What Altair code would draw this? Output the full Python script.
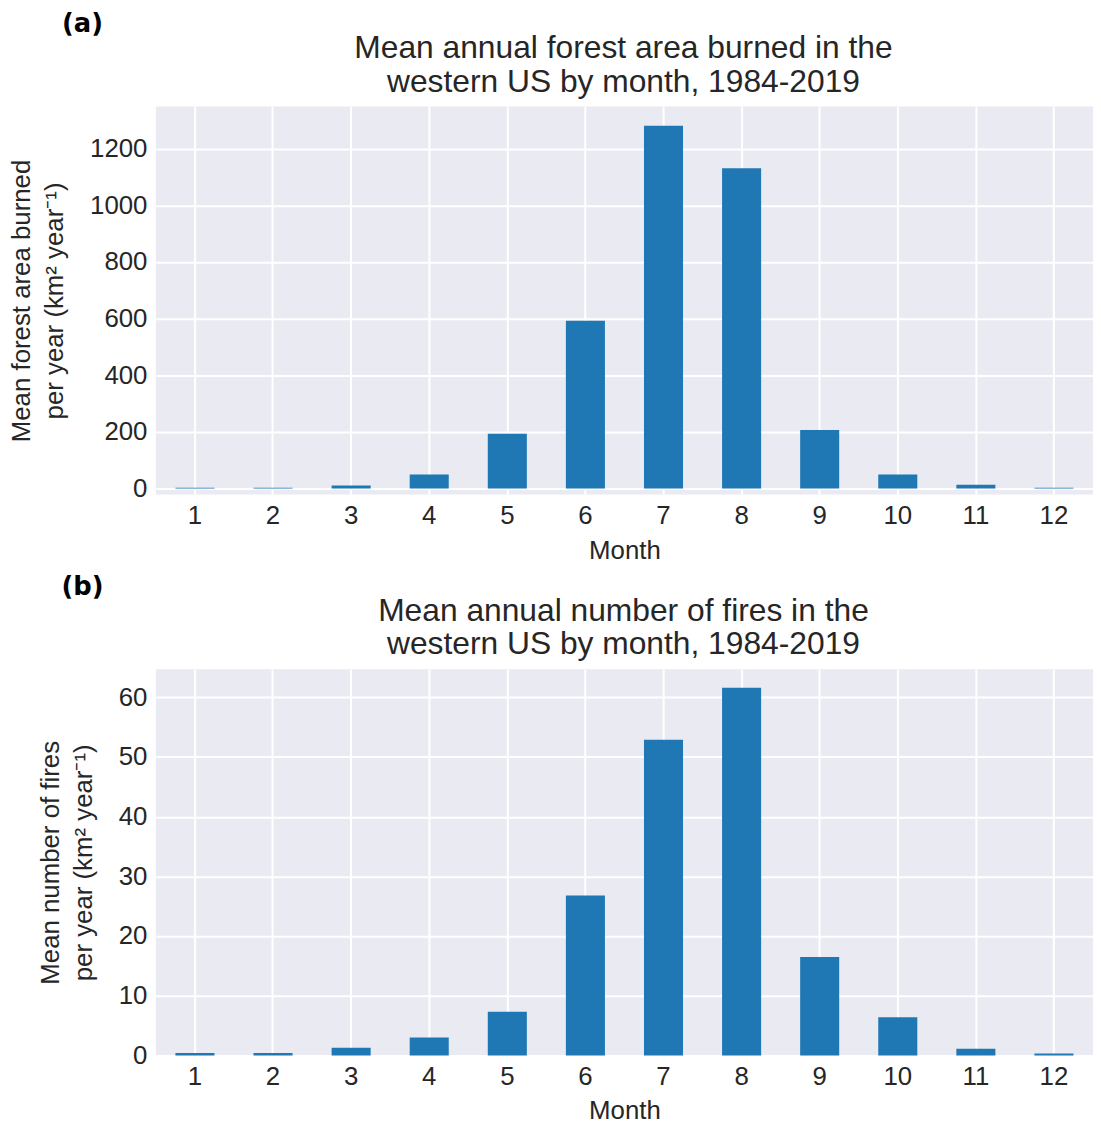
import altair as alt
import pandas as pd

months = list(range(1, 13))
area_burned = [3, 3, 11, 50, 194, 592, 1281, 1131, 207, 50, 14, 3]
num_fires = [0.4, 0.4, 1.3, 3.0, 7.3, 26.8, 52.9, 61.6, 16.5, 6.4, 1.1, 0.3]

title_a = ["Mean annual forest area burned in the", " western US by month, 1984-2019"]
title_b = ["Mean annual number of fires in the", " western US by month, 1984-2019"]
ytitle_a = ["Mean forest area burned", "per year (km\u00b2 year\u207b\u00b9)"]
ytitle_b = ["Mean number of fires", "per year (km\u00b2 year\u207b\u00b9)"]
ticks_a = [0, 200, 400, 600, 800, 1000, 1200]
ticks_b = [0, 10, 20, 30, 40, 50, 60]

TXT = "#262626"
FONT = "Liberation Sans"
W = 944
CX = 472


def panel(values, title, ytitle, letter, domain, ticks, height):
    df = pd.DataFrame({"Month": months, "v": values})
    bars = alt.Chart(df).mark_bar(color="#1f77b4").encode(
        x=alt.X(
            "Month:O",
            scale=alt.Scale(paddingInner=0.5, paddingOuter=0.25),
            axis=alt.Axis(title="Month", labelAngle=0, grid=True, bandPosition=0.5,
                          labelPadding=8, titlePadding=9, titleX=CX),
        ),
        y=alt.Y(
            "v:Q",
            scale=alt.Scale(domain=domain, nice=False, zero=False),
            axis=alt.Axis(values=ticks, format="d", title=ytitle, labelPadding=9,
                          titlePadding=22),
        ),
    )
    one = pd.DataFrame({"t": [letter]})
    lab = alt.Chart(one).mark_text(
        font="DejaVu Sans", fontWeight="bold", fontSize=26, color="black",
        align="center", baseline="middle",
    ).encode(x=alt.value(-74), y=alt.value(-83), text="t:N")
    t1 = alt.Chart(one).mark_text(
        font=FONT, fontSize=32, color=TXT, align="center", baseline="middle",
    ).encode(x=alt.value(CX - 1), y=alt.value(-59), text=alt.value(title[0]))
    t2 = alt.Chart(one).mark_text(
        font=FONT, fontSize=32, color=TXT, align="center", baseline="middle",
    ).encode(x=alt.value(CX - 1), y=alt.value(-25), text=alt.value(title[1]))
    return alt.layer(bars, lab, t1, t2).properties(width=W, height=height)


pa = panel(area_burned, title_a, ytitle_a, "(a)", [-21, 1349], ticks_a, 391)
pb = panel(num_fires, title_b, ytitle_b, "(b)", [0, 64.7], ticks_b, 389)

chart = alt.vconcat(pa, pb, spacing=11).properties(
    padding={"left": 1, "top": -1, "right": 0, "bottom": 0}
).configure_view(
    fill="#EAEAF2", strokeWidth=0
).configure_axis(
    domain=False, ticks=False, gridColor="white", gridWidth=2, gridOpacity=1,
    labelFont=FONT, labelFontSize=26, labelColor=TXT,
    titleFont=FONT, titleFontSize=26, titleColor=TXT, titleFontWeight="normal",
    titleLineHeight=33,
)

chart.save("out.html", embed_options={"renderer": "svg", "actions": False})
